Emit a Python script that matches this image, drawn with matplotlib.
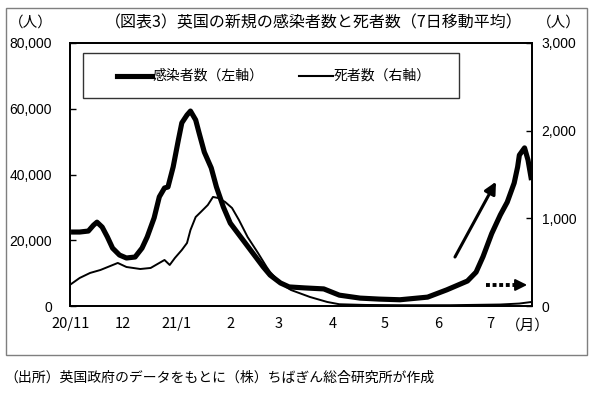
import matplotlib
matplotlib.use("Agg")
import matplotlib.pyplot as plt
import matplotlib.dates as mdates
from matplotlib.patches import Rectangle
from matplotlib.lines import Line2D
import pandas as pd

# ---------------- data (7-day moving averages) ----------------
case_dates = ["2020-11-01", "2020-11-06", "2020-11-11", "2020-11-14", "2020-11-16", "2020-11-19",
              "2020-11-22", "2020-11-25", "2020-11-29", "2020-12-03", "2020-12-08", "2020-12-12",
              "2020-12-15", "2020-12-19", "2020-12-22", "2020-12-25", "2020-12-27", "2020-12-30",
              "2021-01-02", "2021-01-04", "2021-01-07", "2021-01-09", "2021-01-12", "2021-01-14",
              "2021-01-17", "2021-01-21", "2021-01-24", "2021-01-28", "2021-02-01", "2021-02-07",
              "2021-02-14", "2021-02-20", "2021-02-24", "2021-03-02", "2021-03-07", "2021-03-16",
              "2021-03-27", "2021-04-05", "2021-04-17", "2021-04-28", "2021-05-10", "2021-05-26",
              "2021-06-06", "2021-06-18", "2021-06-23", "2021-06-27", "2021-07-02", "2021-07-07",
              "2021-07-11", "2021-07-15", "2021-07-17", "2021-07-18", "2021-07-21", "2021-07-23",
              "2021-07-25"]
case_values = [22500, 22500, 22800, 24600, 25500, 24000,
               21000, 17600, 15500, 14600, 14900, 17600,
               21000, 26800, 33200, 35900, 36200, 42300,
               50500, 55700, 58100, 59300, 56600, 52600,
               46800, 42000, 36200, 30100, 25200, 21000,
               16100, 11900, 9400, 7000, 5800, 5500,
               5200, 3300, 2400, 2100, 1900, 2700,
               4900, 7600, 10300, 15000, 22000, 27700,
               31600, 37400, 42300, 45900, 48100, 44400,
               38300]

death_dates = ["2020-11-01", "2020-11-06", "2020-11-12", "2020-11-18", "2020-11-28", "2020-12-03",
               "2020-12-11", "2020-12-17", "2020-12-22", "2020-12-25", "2020-12-28", "2020-12-31",
               "2021-01-04", "2021-01-07", "2021-01-09", "2021-01-12", "2021-01-15", "2021-01-19",
               "2021-01-22", "2021-01-25", "2021-01-29", "2021-02-02", "2021-02-06", "2021-02-11",
               "2021-02-17", "2021-02-22", "2021-02-24", "2021-03-02", "2021-03-08", "2021-03-19",
               "2021-03-29", "2021-04-05", "2021-04-20", "2021-05-10", "2021-06-08", "2021-07-07",
               "2021-07-18", "2021-07-25"]
death_values = [250, 320, 377, 411, 491, 445,
                422, 434, 491, 525, 468, 548,
                639, 719, 867, 1015, 1073, 1152,
                1244, 1232, 1187, 1118, 981, 787,
                605, 445, 388, 262, 183, 103,
                46, 20, 12, 9, 9, 17,
                28, 46]

month_starts = ["2020-11-01", "2020-12-01", "2021-01-01", "2021-02-01", "2021-03-01",
                "2021-04-01", "2021-05-01", "2021-06-01", "2021-07-01"]
month_labels = ["20/11", "12", "21/1", "2", "3", "4", "5", "6", "7"]

left_ticks = [0, 20000, 40000, 60000, 80000]
right_ticks = [0, 1000, 2000, 3000]

title = "（図表3）英国の新規の感染者数と死者数（7日移動平均）"
legend_cases = "感染者数（左軸）"
legend_deaths = "死者数（右軸）"
unit = "（人）"
month_unit = "（月）"
source = "（出所）英国政府のデータをもとに（株）ちばぎん総合研究所が作成"

# ---------------- figure ----------------
JP = ["Noto Sans CJK JP", "DejaVu Sans"]
W, H = 601, 398
fig = plt.figure(figsize=(W / 100, H / 100), dpi=100)


def fx(px):
    return px / W


def fy(py):
    return 1 - py / H


ax = fig.add_axes([fx(70), fy(306), fx(532) - fx(70), fy(43) - fy(306)])
ax2 = ax.twinx()

cd = pd.to_datetime(case_dates)
dd = pd.to_datetime(death_dates)
ax.plot(cd, case_values, color="black", lw=3.7, solid_joinstyle="round", solid_capstyle="butt", zorder=3)
ax2.plot(dd, death_values, color="black", lw=1.4, solid_joinstyle="round", zorder=3)

start = pd.Timestamp("2020-11-01")
ax.set_xlim(start - pd.Timedelta(days=0.6), start + pd.Timedelta(days=266.3))
ax.set_ylim(0, 80000)
ax2.set_ylim(0, 3000)

ax.set_xticks(pd.to_datetime(month_starts))
ax.set_xticklabels(month_labels, family=JP, fontsize=10.5)
ax.tick_params(axis="x", length=0, pad=8)

ax.set_yticks(left_ticks)
ax.set_yticklabels([f"{v:,}" for v in left_ticks], family="Liberation Sans", fontsize=10)
ax.tick_params(axis="y", direction="in", length=4, width=1, pad=13)
ax2.set_yticks(right_ticks)
ax2.set_yticklabels([f"{v:,}" for v in right_ticks], family="Liberation Sans", fontsize=10)
ax2.tick_params(axis="y", direction="in", length=4, width=1, pad=7)

for a in (ax, ax2):
    for s in a.spines.values():
        s.set_linewidth(1.3)
        s.set_color("black")

# arrows (annotations)
d0 = start
ax.annotate("", xy=(d0 + pd.Timedelta(days=245.5), 37800), xytext=(d0 + pd.Timedelta(days=221.8), 14900),
            arrowprops=dict(arrowstyle="-|>,head_length=0.7,head_width=0.35", color="black", lw=2.2,
                            shrinkA=0, shrinkB=0))
ax.plot([d0 + pd.Timedelta(days=239.7), d0 + pd.Timedelta(days=257.5)], [6400, 6400],
        color="black", lw=2.8, linestyle=(0, (1, 0.7)), solid_capstyle="butt", dash_capstyle="butt")
ax.annotate("", xy=(d0 + pd.Timedelta(days=263.5), 6400), xytext=(d0 + pd.Timedelta(days=257.0), 6400),
            arrowprops=dict(arrowstyle="-|>,head_length=0.7,head_width=0.35", color="black", lw=1.5,
                            shrinkA=0, shrinkB=0))

# legend box (drawn in figure coordinates)
fig.patches.append(Rectangle((fx(83), fy(98)), fx(459) - fx(83), fy(53) - fy(98),
                             transform=fig.transFigure, fill=False, edgecolor="#333333", lw=1))
fig.lines.append(Line2D([fx(117), fx(152)], [fy(75.5), fy(75.5)], transform=fig.transFigure,
                        color="black", lw=3.7))
fig.text(fx(153), fy(75.5), legend_cases, family=JP, fontsize=10, va="center", ha="left")
fig.lines.append(Line2D([fx(299), fx(333)], [fy(75.5), fy(75.5)], transform=fig.transFigure,
                        color="black", lw=1.5))
fig.text(fx(334), fy(75.5), legend_deaths, family=JP, fontsize=10, va="center", ha="left")

# texts
fig.text(fx(314), fy(23), title, family=JP, fontsize=11.5, ha="center", va="center")
fig.text(fx(31), fy(23), unit, family=JP, fontsize=10.5, ha="center", va="center")
fig.text(fx(559), fy(23), unit, family=JP, fontsize=10.5, ha="center", va="center")
fig.text(fx(528), fy(326), month_unit, family=JP, fontsize=10.5, ha="center", va="center")
fig.text(fx(4), fy(378), source, family=JP, fontsize=10, ha="left", va="center")

# outer frame
fig.patches.append(Rectangle((fx(6), fy(355)), fx(587) - fx(6), fy(8) - fy(355),
                             transform=fig.transFigure, fill=False, edgecolor="#7f7f7f", lw=1))

fig.savefig("out.png", dpi=100)
